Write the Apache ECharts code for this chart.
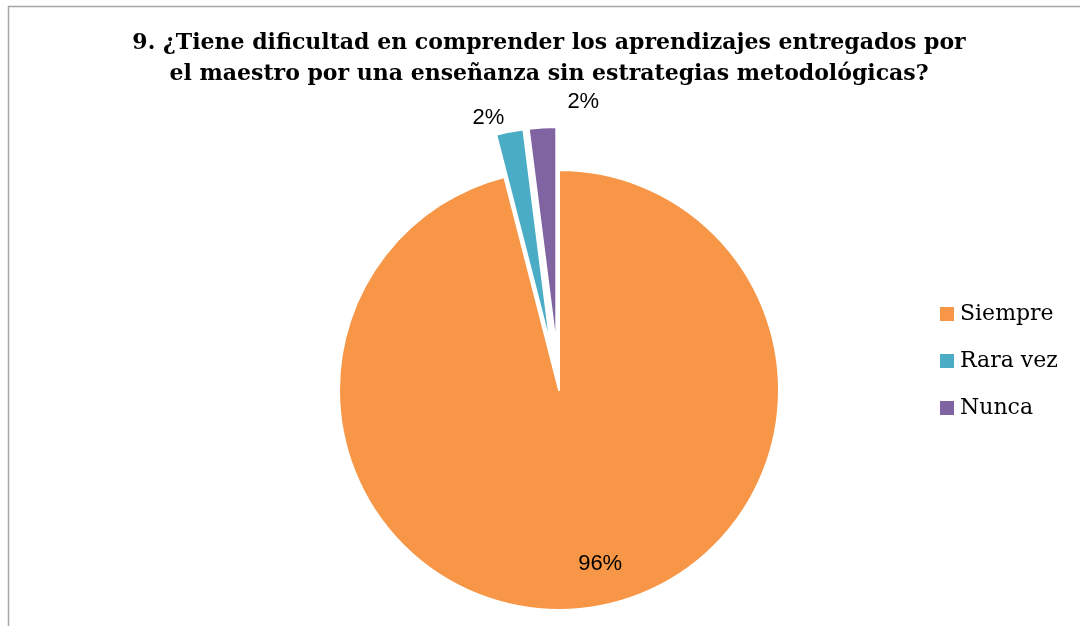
<!DOCTYPE html>
<html>
<head>
<meta charset="utf-8">
<script src="https://cdn.jsdelivr.net/npm/echarts@6/dist/echarts.min.js"></script>
<style>html,body{margin:0;padding:0;background:#fff}#c{width:1080px;height:626px}</style>
</head>
<body>
<div id="c"></div>
<script>
const titleText = '9. ¿Tiene dificultad en comprender los aprendizajes entregados por\nel maestro por una enseñanza sin estrategias metodológicas?';
const categories = ['Siempre', 'Rara vez', 'Nunca'];
const values = [96, 2, 2];
const colors = ['#F79646', '#4BACC6', '#8064A2'];
const exploded = [false, true, true];

const chart = echarts.init(document.getElementById('c'), null, {renderer: 'canvas'});
const labelShift = [
  {dx: 27, dy: 62},
  {dx: 56, dy: -29},
  {dx: 62, dy: -21}
];
chart.setOption({
  backgroundColor: '#fff',
  animation: false,
  graphic: [{
    type: 'rect', left: 6, top: 4, silent: true,
    shape: {width: 1200, height: 800},
    style: {fill: 'none', stroke: '#a6a6a6', lineWidth: 1.5}
  }],
  title: {
    text: titleText,
    left: 544, top: 23, textAlign: 'center',
    textStyle: {fontFamily: 'DejaVu Serif', fontWeight: 'bold', fontSize: 22, lineHeight: 31, color: '#000'}
  },
  legend: {
    orient: 'vertical', left: 938, top: 303, padding: 0,
    itemWidth: 16, itemHeight: 16, itemGap: 25, icon: 'rect',
    textStyle: {fontFamily: 'DejaVu Serif', fontSize: 22, lineHeight: 22, color: '#000'},
    data: categories
  },
  series: [{
    type: 'pie',
    center: [559, 390], radius: 220,
    startAngle: 90, clockwise: true,
    selectedMode: 'multiple', selectedOffset: 43,
    emphasis: {disabled: true},
    itemStyle: {borderColor: '#fff', borderWidth: 2},
    label: {
      show: true, formatter: '{c}%',
      fontFamily: 'Liberation Sans', fontSize: 22, color: '#000'
    },
    labelLine: {show: false, length: 5, length2: 0},
    labelLayout: function (p) { return labelShift[p.dataIndex]; },
    data: categories.map((n, i) => ({
      name: n, value: values[i], selected: exploded[i],
      itemStyle: {color: colors[i]},
      label: {position: i === 0 ? 'inside' : 'outside'}
    }))
  }]
});
</script>
</body>
</html>
